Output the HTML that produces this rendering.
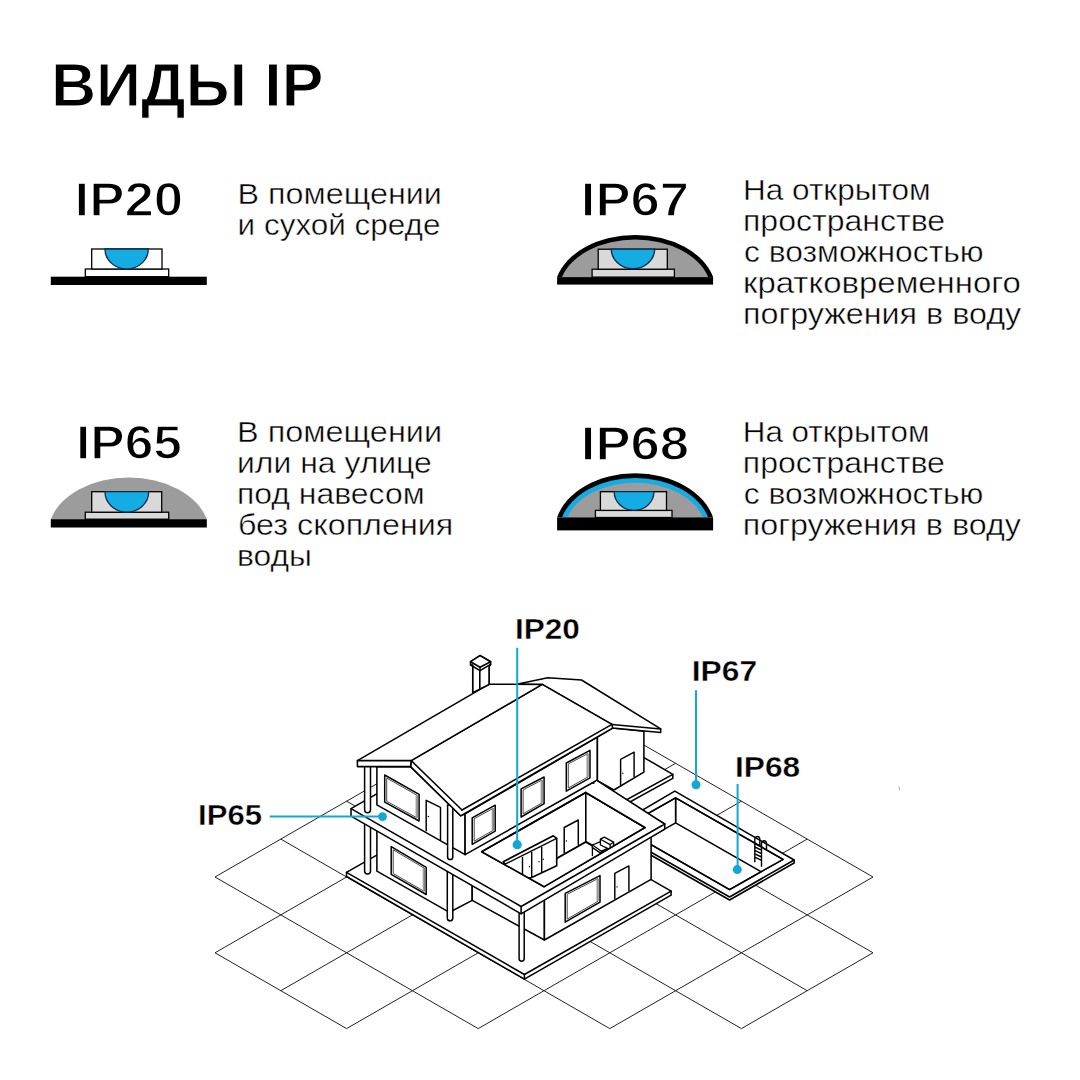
<!DOCTYPE html>
<html><head><meta charset="utf-8"><style>
html,body{margin:0;padding:0;background:#fff;}
svg{display:block;}
text{font-family:"Liberation Sans",sans-serif;}
</style></head><body>
<svg width="1080" height="1080" viewBox="0 0 1080 1080">
<text x="50.9" y="106.15" font-size="60.17" font-weight="700" fill="#000" stroke="#fff" stroke-width="1.1" textLength="272.6" lengthAdjust="spacingAndGlyphs">ВИДЫ IP</text>
<text x="74.5" y="215.95" font-size="48.11" font-weight="700" fill="#000" stroke="#fff" stroke-width="1.5" textLength="108.7" lengthAdjust="spacingAndGlyphs">IP20</text>
<text x="580.8" y="216.35" font-size="48.98" font-weight="700" fill="#000" stroke="#fff" stroke-width="1.5" textLength="108.2" lengthAdjust="spacingAndGlyphs">IP67</text>
<text x="76.0" y="458.55" font-size="48.4" font-weight="700" fill="#000" stroke="#fff" stroke-width="1.5" textLength="106.0" lengthAdjust="spacingAndGlyphs">IP65</text>
<text x="580.8" y="459.65" font-size="48.98" font-weight="700" fill="#000" stroke="#fff" stroke-width="1.5" textLength="108.3" lengthAdjust="spacingAndGlyphs">IP68</text>
<text x="237.6" y="204.32" font-size="29.0" font-weight="400" fill="#000" stroke="#fff" stroke-width="0.45" textLength="204.2" lengthAdjust="spacingAndGlyphs">В помещении</text>
<text x="237.6" y="235.22" font-size="29.0" font-weight="400" fill="#000" stroke="#fff" stroke-width="0.45" textLength="202.9" lengthAdjust="spacingAndGlyphs">и сухой среде</text>
<text x="743.0" y="200.03" font-size="29.0" font-weight="400" fill="#000" stroke="#fff" stroke-width="0.45" textLength="187.7" lengthAdjust="spacingAndGlyphs">На открытом</text>
<text x="743.0" y="230.92" font-size="29.0" font-weight="400" fill="#000" stroke="#fff" stroke-width="0.45" textLength="202.1" lengthAdjust="spacingAndGlyphs">пространстве</text>
<text x="744.0" y="261.83" font-size="29.0" font-weight="400" fill="#000" stroke="#fff" stroke-width="0.45" textLength="239.6" lengthAdjust="spacingAndGlyphs">с возможностью</text>
<text x="743.0" y="292.73" font-size="29.0" font-weight="400" fill="#000" stroke="#fff" stroke-width="0.45" textLength="277.9" lengthAdjust="spacingAndGlyphs">кратковременного</text>
<text x="743.0" y="323.62" font-size="29.0" font-weight="400" fill="#000" stroke="#fff" stroke-width="0.45" textLength="278.1" lengthAdjust="spacingAndGlyphs">погружения в воду</text>
<text x="237.0" y="442.33" font-size="29.0" font-weight="400" fill="#000" stroke="#fff" stroke-width="0.45" textLength="205.0" lengthAdjust="spacingAndGlyphs">В помещении</text>
<text x="237.0" y="473.23" font-size="29.0" font-weight="400" fill="#000" stroke="#fff" stroke-width="0.45" textLength="194.8" lengthAdjust="spacingAndGlyphs">или на улице</text>
<text x="237.0" y="504.12" font-size="29.0" font-weight="400" fill="#000" stroke="#fff" stroke-width="0.45" textLength="187.6" lengthAdjust="spacingAndGlyphs">под навесом</text>
<text x="238.0" y="535.02" font-size="29.0" font-weight="400" fill="#000" stroke="#fff" stroke-width="0.45" textLength="215.2" lengthAdjust="spacingAndGlyphs">без скопления</text>
<text x="237.0" y="565.93" font-size="29.0" font-weight="400" fill="#000" stroke="#fff" stroke-width="0.45" textLength="75.0" lengthAdjust="spacingAndGlyphs">воды</text>
<text x="742.8" y="442.43" font-size="29.0" font-weight="400" fill="#000" stroke="#fff" stroke-width="0.45" textLength="186.7" lengthAdjust="spacingAndGlyphs">На открытом</text>
<text x="742.8" y="473.33" font-size="29.0" font-weight="400" fill="#000" stroke="#fff" stroke-width="0.45" textLength="202.1" lengthAdjust="spacingAndGlyphs">пространстве</text>
<text x="743.8" y="504.23" font-size="29.0" font-weight="400" fill="#000" stroke="#fff" stroke-width="0.45" textLength="239.6" lengthAdjust="spacingAndGlyphs">с возможностью</text>
<text x="742.8" y="535.12" font-size="29.0" font-weight="400" fill="#000" stroke="#fff" stroke-width="0.45" textLength="278.1" lengthAdjust="spacingAndGlyphs">погружения в воду</text>
<rect x="85.3" y="269" width="83.40" height="7.70" fill="#fff" stroke="#000" stroke-width="1.3"/><rect x="91.7" y="249" width="70.30" height="20.00" fill="#fff" stroke="#000" stroke-width="1.3"/><path d="M105,249 A21.65,20.00 0 0 0 148.3,249 Z" fill="#14ace3" stroke="#0a2a4a" stroke-width="1.3"/><rect x="50.8" y="276.7" width="156" height="8.3" fill="#000"/>
<path d="M50.80,519.2 A80.59,55.70 0 0 1 206.80,519.2 Z" fill="#9c9c9c"/><rect x="85.3" y="512.2" width="83.40" height="7.00" fill="#d9d9d9" stroke="#000" stroke-width="1.3"/><rect x="91.7" y="491.7" width="70.00" height="20.50" fill="#d9d9d9" stroke="#000" stroke-width="1.3"/><path d="M105,491.7 A21.85,20.50 0 0 0 148.7,491.7 Z" fill="#14ace3" stroke="#0a2a4a" stroke-width="1.3"/><rect x="50.8" y="519.2" width="156" height="8.3" fill="#000"/>
<path d="M557.10,277.1 A80.55,56.10 0 0 1 713.10,277.1 Z" fill="#000"/><path d="M562.01,277.1 A75.95,51.50 0 0 1 708.19,277.1 Z" fill="#9c9c9c"/><rect x="592.1" y="269.2" width="82.30" height="7.90" fill="#d9d9d9" stroke="#000" stroke-width="1.3"/><rect x="598.2" y="249.2" width="69.10" height="20.00" fill="#d9d9d9" stroke="#000" stroke-width="1.3"/><path d="M611.25,249.2 A21.73,20.00 0 0 0 654.7,249.2 Z" fill="#14ace3" stroke="#0a2a4a" stroke-width="1.3"/><rect x="557.1" y="277.1" width="156" height="7.5" fill="#000"/>
<path d="M557.10,517.5 A80.36,58.20 0 0 1 713.10,517.5 Z" fill="#000"/><path d="M561.97,517.5 A75.76,53.60 0 0 1 708.23,517.5 Z" fill="#14ace3"/><path d="M567.12,517.5 A70.96,48.80 0 0 1 703.08,517.5 Z" fill="#9c9c9c"/><rect x="595.4" y="510.4" width="76.60" height="7.10" fill="#d9d9d9" stroke="#000" stroke-width="1.3"/><rect x="600.4" y="491.7" width="66.10" height="18.70" fill="#d9d9d9" stroke="#000" stroke-width="1.3"/><path d="M614.2,491.7 A19.85,18.70 0 0 0 653.9,491.7 Z" fill="#14ace3" stroke="#0a2a4a" stroke-width="1.3"/><rect x="557.1" y="517.5" width="156" height="12.9" fill="#000"/>
<text x="515.0" y="639.27" font-size="29.14" font-weight="700" fill="#000" stroke="#fff" stroke-width="0.35" textLength="64.9" lengthAdjust="spacingAndGlyphs">IP20</text>
<text x="691.8" y="681.47" font-size="28.85" font-weight="700" fill="#000" stroke="#fff" stroke-width="0.35" textLength="65.3" lengthAdjust="spacingAndGlyphs">IP67</text>
<text x="735.0" y="777.27" font-size="28.85" font-weight="700" fill="#000" stroke="#fff" stroke-width="0.35" textLength="65.2" lengthAdjust="spacingAndGlyphs">IP68</text>
<text x="198.1" y="825.17" font-size="28.71" font-weight="700" fill="#000" stroke="#fff" stroke-width="0.35" textLength="63.9" lengthAdjust="spacingAndGlyphs">IP65</text>
<path d="M215.0,877.0L544.0,687.5M215.0,952.8L609.8,725.4M280.8,990.7L675.6,763.3M346.6,1028.6L741.4,801.2M478.2,1028.6L807.2,839.1M609.8,1028.6L873.0,877.0M741.4,1028.6L873.0,952.8M215.0,952.8L346.6,1028.6M215.0,877.0L478.2,1028.6M280.8,839.1L609.8,1028.6M346.6,801.2L741.4,1028.6M412.4,763.3L807.2,990.7M478.2,725.4L873.0,952.8M544.0,687.5L873.0,877.0" stroke="#222" stroke-width="1.0" fill="none"/>
<polygon points="610.3,829.0 674.8,791.1 794.1,860.0 794.1,863.0 729.6,900.0 610.3,832.0" fill="#fff" stroke="#000" stroke-width="1.55" stroke-linejoin="round"/>
<polyline points="610.3,829.0 729.6,897.0 794.1,860.0" fill="none" stroke="#000" stroke-width="1.55" stroke-linejoin="round" stroke-linecap="round"/>
<polygon points="622.2,828.1 675.6,797.8 783.0,859.3 729.6,889.6" fill="#fff" stroke="#000" stroke-width="1.55" stroke-linejoin="round"/>
<clipPath id="poolclip"><polygon points="622.2,828.1 675.6,797.8 783.0,859.3 729.6,889.6"/></clipPath><g clip-path="url(#poolclip)">
<polygon points="675.6,797.8 783.0,859.3 783.0,884.3 675.6,822.8" fill="#fff" stroke="#000" stroke-width="1.55" stroke-linejoin="round"/>
<polygon points="622.2,828.1 675.6,797.8 675.6,822.8 622.2,853.1" fill="#fff" stroke="#000" stroke-width="1.55" stroke-linejoin="round"/>
</g>
<polyline points="622.2,828.1 675.6,797.8 783.0,859.3 729.6,889.6 622.2,828.1" fill="none" stroke="#000" stroke-width="1.55" stroke-linejoin="round" stroke-linecap="round"/>
<path d="M754.8,862.2V839.3C754.8,835.5 759.8,835.5 759.8,839.5V845M761.5,866.7V843.5C761.5,839.8 766.5,839.8 766.5,843.8V849M754.8,843.6L761.5,846.8M754.8,847.0L761.5,850.2M754.8,850.4L761.5,853.6M754.8,853.8L761.5,857.0M754.8,857.2L761.5,860.4" stroke="#000" stroke-width="1.4" fill="none"/>
<polygon points="570.0,799.0 644.4,757.8 672.8,774.4 672.8,778.4 598.0,819.5 598.0,815.5" fill="#fff" stroke="#000" stroke-width="1.55" stroke-linejoin="round"/>
<polyline points="672.8,774.4 598.0,815.5" fill="none" stroke="#000" stroke-width="1.55" stroke-linejoin="round" stroke-linecap="round"/>
<polygon points="346.5,872.3 493.2,788.9 671.1,891.1 671.1,895.1 524.4,979.1 346.5,876.5" fill="#fff" stroke="#000" stroke-width="1.55" stroke-linejoin="round"/>
<polyline points="346.5,872.3 524.4,974.5 671.1,891.1" fill="none" stroke="#000" stroke-width="1.55" stroke-linejoin="round" stroke-linecap="round"/>
<polyline points="524.4,974.5 524.4,979.1" fill="none" stroke="#000" stroke-width="1.55" stroke-linejoin="round" stroke-linecap="round"/>
<polygon points="376.9,819.2 449.5,860.3 449.5,912.3 376.9,871.2" fill="#fff" stroke="#000" stroke-width="1.55" stroke-linejoin="round"/>
<polygon points="449.5,860.3 472.2,848.4 472.2,900.4 449.5,912.3" fill="#fff" stroke="#000" stroke-width="1.55" stroke-linejoin="round"/>
<polygon points="472.2,845.4 544.4,885.0 544.4,940.0 472.2,900.4" fill="#fff" stroke="#000" stroke-width="1.55" stroke-linejoin="round"/>
<polygon points="544.4,895.0 651.1,834.3 651.1,879.3 544.4,940.0" fill="#fff" stroke="#000" stroke-width="1.55" stroke-linejoin="round"/>
<polygon points="391.2,846.6 426.2,867.3 426.2,894.5 391.2,874.4" fill="#fff" stroke="#000" stroke-width="1.5" stroke-linejoin="round"/>
<polygon points="393.2,849.8 424.2,868.1 424.2,891.4 393.2,873.5" fill="#fff" stroke="#333" stroke-width="0.9" stroke-linejoin="round"/>
<polyline points="423.3,868.6 423.3,890.9" fill="none" stroke="#999" stroke-width="1.2" stroke-linejoin="round" stroke-linecap="round"/>
<polygon points="565.2,893.3 600.0,875.6 600.0,902.2 565.2,922.2" fill="#fff" stroke="#000" stroke-width="1.5" stroke-linejoin="round"/>
<polygon points="567.2,894.3 598.0,878.6 598.0,901.3 567.2,919.1" fill="#fff" stroke="#333" stroke-width="0.9" stroke-linejoin="round"/>
<polyline points="597.1,879.1 597.1,900.8" fill="none" stroke="#999" stroke-width="1.2" stroke-linejoin="round" stroke-linecap="round"/>
<polyline points="614.8,898.5 614.8,873.3 628.9,865.9 628.9,890.4" fill="none" stroke="#000" stroke-width="1.45" stroke-linejoin="round" stroke-linecap="round"/>
<circle cx="617.0" cy="886.9" r="0.7" fill="#000"/>
<path d="M364.6,822.0V871.0A2.9,2.9 0 0 0 370.5,871.0V822.0Z" fill="#fff" stroke="#000" stroke-width="1.5"/>
<path d="M447.3,870.0V918.5A2.8,2.8 0 0 0 452.8,918.5V870.0Z" fill="#fff" stroke="#000" stroke-width="1.5"/>
<path d="M519.1,912.0V959.2A2.6,2.6 0 0 0 524.2,959.2V912.0Z" fill="#fff" stroke="#000" stroke-width="1.5"/>
<polygon points="351.0,808.7 494.6,726.2 664.7,824.0 664.7,829.1 521.1,913.8 351.0,816.2" fill="#fff" stroke="#000" stroke-width="1.55" stroke-linejoin="round"/>
<polyline points="351.0,808.7 521.1,906.5 664.7,824.0" fill="none" stroke="#000" stroke-width="1.55" stroke-linejoin="round" stroke-linecap="round"/>
<polyline points="521.1,906.5 521.1,913.6" fill="none" stroke="#000" stroke-width="1.55" stroke-linejoin="round" stroke-linecap="round"/>
<polygon points="481.7,851.7 585.8,792.5 645.0,827.5 544.2,886.7" fill="#fff" stroke="#000" stroke-width="1.55" stroke-linejoin="round"/>
<clipPath id="roomclip"><polygon points="481.7,851.7 585.8,792.5 645.0,827.5 544.2,886.7"/></clipPath><g clip-path="url(#roomclip)">
<polygon points="481.7,851.7 585.8,792.5 585.8,842.0 481.7,901.2" fill="#fff" stroke="#000" stroke-width="1.6" stroke-linejoin="round"/>
<polygon points="585.8,792.5 645.0,827.5 645.0,877.0 585.8,842.0" fill="#fff" stroke="#000" stroke-width="1.6" stroke-linejoin="round"/>
<polygon points="481.7,901.2 585.8,842.0 645.0,877.0 544.2,936.2" fill="#fff" stroke="#000" stroke-width="1.6" stroke-linejoin="round"/>
<polyline points="564.2,852.5 564.2,827.5 578.3,820.0 578.3,844.2" fill="none" stroke="#000" stroke-width="1.5" stroke-linejoin="round" stroke-linecap="round"/>
<circle cx="566.4" cy="841.0" r="0.7" fill="#000"/>
<polyline points="585.8,841.7 592.4,845.2" fill="none" stroke="#000" stroke-width="1.5" stroke-linejoin="round" stroke-linecap="round"/>
<polygon points="592.4,845.0 600.4,841.6 609.5,847.4 601.5,851.2 601.5,853.6 592.4,847.6" fill="#fff" stroke="#000" stroke-width="1.3" stroke-linejoin="round"/>
<polyline points="592.4,845.0 601.5,851.2" fill="none" stroke="#000" stroke-width="1.2" stroke-linejoin="round" stroke-linecap="round"/>
<polyline points="592.4,847.6 592.4,855.6" fill="none" stroke="#000" stroke-width="1.3" stroke-linejoin="round" stroke-linecap="round"/>
<polygon points="600.4,839.2 604.3,837.2 613.6,842.2 613.6,847.2 610.2,849.6 600.4,845.0" fill="#fff" stroke="#000" stroke-width="1.35" stroke-linejoin="round"/>
<polyline points="600.4,839.2 610.2,844.6 613.6,842.2" fill="none" stroke="#000" stroke-width="1.2" stroke-linejoin="round" stroke-linecap="round"/>
<polyline points="610.2,844.6 610.2,849.6" fill="none" stroke="#000" stroke-width="1.2" stroke-linejoin="round" stroke-linecap="round"/>
<polygon points="505.0,882.2 505.0,864.2 503.3,861.7 553.3,835.8 556.7,838.3 556.7,865.8 531.7,877.5" fill="#fff" stroke="#000" stroke-width="1.6" stroke-linejoin="round"/>
<polyline points="505.0,864.2 556.7,838.3" fill="none" stroke="#000" stroke-width="1.4" stroke-linejoin="round" stroke-linecap="round"/>
<polyline points="522.5,857.5 522.5,873.5" fill="none" stroke="#000" stroke-width="1.4" stroke-linejoin="round" stroke-linecap="round"/>
<polyline points="531.7,852.5 531.7,877.5" fill="none" stroke="#000" stroke-width="1.4" stroke-linejoin="round" stroke-linecap="round"/>
<polyline points="541.7,847.5 541.7,872.5" fill="none" stroke="#000" stroke-width="1.4" stroke-linejoin="round" stroke-linecap="round"/>
<circle cx="529.5" cy="866.7" r="0.7" fill="#000"/>
<circle cx="539" cy="861.7" r="0.7" fill="#000"/>
<circle cx="543.3" cy="859.2" r="0.7" fill="#000"/>
</g>
<polyline points="481.7,851.7 585.8,792.5 645.0,827.5 544.2,886.7 481.7,851.7" fill="none" stroke="#000" stroke-width="1.55" stroke-linejoin="round" stroke-linecap="round"/>
<polygon points="376.9,804.8 376.9,766.6 410.6,766.6 460.6,815.8 465.1,813.9 465.1,854.7" fill="#fff" stroke="#000" stroke-width="1.55" stroke-linejoin="round"/>
<polygon points="465.1,854.7 465.1,813.9 597.4,737.2 597.4,780.0" fill="#fff" stroke="#000" stroke-width="1.55" stroke-linejoin="round"/>
<polygon points="384.7,775.0 419.1,794.4 419.1,821.0 384.7,802.2" fill="#fff" stroke="#000" stroke-width="1.5" stroke-linejoin="round"/>
<polygon points="386.7,778.1 417.1,795.3 417.1,817.9 386.7,801.3" fill="#fff" stroke="#333" stroke-width="0.9" stroke-linejoin="round"/>
<polyline points="416.2,795.8 416.2,817.4" fill="none" stroke="#999" stroke-width="1.2" stroke-linejoin="round" stroke-linecap="round"/>
<polyline points="426.2,830.7 426.2,800.3 440.5,807.4 440.5,839.8" fill="none" stroke="#000" stroke-width="1.45" stroke-linejoin="round" stroke-linecap="round"/>
<circle cx="428.4" cy="816.5" r="0.7" fill="#000"/>
<polygon points="472.2,817.8 495.2,805.2 495.2,831.1 472.2,844.4" fill="#fff" stroke="#000" stroke-width="1.5" stroke-linejoin="round"/>
<polygon points="474.2,818.7 493.2,808.3 493.2,830.3 474.2,841.2" fill="#fff" stroke="#333" stroke-width="0.9" stroke-linejoin="round"/>
<polyline points="492.3,808.8 492.3,829.8" fill="none" stroke="#999" stroke-width="1.2" stroke-linejoin="round" stroke-linecap="round"/>
<polygon points="521.1,788.9 544.1,777.0 544.1,803.7 521.1,817.0" fill="#fff" stroke="#000" stroke-width="1.5" stroke-linejoin="round"/>
<polygon points="523.1,789.9 542.1,780.0 542.1,802.9 523.1,813.8" fill="#fff" stroke="#333" stroke-width="0.9" stroke-linejoin="round"/>
<polyline points="541.2,780.5 541.2,802.4" fill="none" stroke="#999" stroke-width="1.2" stroke-linejoin="round" stroke-linecap="round"/>
<polygon points="566.3,763.0 590.0,750.4 590.0,777.8 566.3,791.1" fill="#fff" stroke="#000" stroke-width="1.5" stroke-linejoin="round"/>
<polygon points="568.3,763.9 588.0,753.5 588.0,776.9 568.3,788.0" fill="#fff" stroke="#333" stroke-width="0.9" stroke-linejoin="round"/>
<polyline points="587.1,754.0 587.1,776.4" fill="none" stroke="#999" stroke-width="1.2" stroke-linejoin="round" stroke-linecap="round"/>
<path d="M364.6,766.0V809.8A2.9,2.9 0 0 0 370.5,809.8V766.0Z" fill="#fff" stroke="#000" stroke-width="1.5"/>
<path d="M447.6,805.0V856.9A2.6,2.6 0 0 0 452.8,856.9V805.0Z" fill="#fff" stroke="#000" stroke-width="1.5"/>
<polygon points="597.4,737.2 612.6,728.1 643.9,731.2 643.9,772.2 613.9,790.0 597.4,780.6" fill="#fff" stroke="#000" stroke-width="1.55" stroke-linejoin="round"/>
<polyline points="620.6,785.0 620.6,759.4 634.1,752.2 634.1,776.7" fill="none" stroke="#000" stroke-width="1.45" stroke-linejoin="round" stroke-linecap="round"/>
<circle cx="622.8" cy="773.2" r="0.7" fill="#000"/>
<polygon points="597.2,780.6 664.7,824.0 645.0,827.5 585.8,792.5" fill="#fff" stroke="none" stroke-width="0" stroke-linejoin="round"/>
<polyline points="597.2,780.6 664.7,824.0" fill="none" stroke="#000" stroke-width="1.55" stroke-linejoin="round" stroke-linecap="round"/>
<polyline points="585.8,792.5 645.0,827.5" fill="none" stroke="#000" stroke-width="1.55" stroke-linejoin="round" stroke-linecap="round"/>
<polygon points="517.8,683.9 547.8,677.8 581.5,680.0 660.7,728.9 660.7,732.6 612.6,728.1 611.9,724.4 542.2,684.4" fill="#fff" stroke="#000" stroke-width="1.55" stroke-linejoin="round"/>
<polyline points="611.9,724.4 660.7,728.9" fill="none" stroke="#000" stroke-width="1.55" stroke-linejoin="round" stroke-linecap="round"/>
<polygon points="411.2,760.6 542.2,684.4 611.9,724.4 612.6,728.1 460.6,815.8 410.6,766.6" fill="#fff" stroke="#000" stroke-width="1.55" stroke-linejoin="round"/>
<polyline points="462.0,810.0 611.9,724.4" fill="none" stroke="#000" stroke-width="1.55" stroke-linejoin="round" stroke-linecap="round"/>
<polyline points="411.2,760.6 462.0,810.0" fill="none" stroke="#000" stroke-width="1.55" stroke-linejoin="round" stroke-linecap="round"/>
<polygon points="357.4,760.6 489.1,684.2 542.2,684.4 411.2,760.6 410.6,766.6 357.4,766.6" fill="#fff" stroke="#000" stroke-width="1.55" stroke-linejoin="round"/>
<polyline points="357.4,760.6 411.2,760.6" fill="none" stroke="#000" stroke-width="1.55" stroke-linejoin="round" stroke-linecap="round"/>
<polygon points="472.8,692.8 472.8,665.0 470.6,665.0 470.6,661.7 480.0,655.6 490.6,661.7 490.6,664.4 489.1,666.7 489.1,684.4" fill="#fff" stroke="#000" stroke-width="1.7" stroke-linejoin="round"/>
<polygon points="470.6,661.7 480.0,655.6 490.6,661.7 480.0,667.2" fill="#fff" stroke="#000" stroke-width="1.6" stroke-linejoin="round"/>
<polyline points="470.6,665.0 480.0,670.6 490.6,664.4" fill="none" stroke="#000" stroke-width="1.6" stroke-linejoin="round" stroke-linecap="round"/>
<polyline points="480.0,667.2 480.0,670.6" fill="none" stroke="#000" stroke-width="1.4" stroke-linejoin="round" stroke-linecap="round"/>
<polyline points="479.8,670.6 479.8,688.9" fill="none" stroke="#000" stroke-width="1.6" stroke-linejoin="round" stroke-linecap="round"/>
<path d="M899,786.5L899.6,790.5" stroke="#999" stroke-width="0.8"/>
<g stroke="#12a7d5" stroke-width="2" fill="none"><path d="M517.2,647.8V844.7M696,690.3V784.7M737.6,784V869.6M269.7,816.6H382.5"/></g>
<g fill="#12a7d5"><circle cx="517.2" cy="844.7" r="4.6"/><circle cx="696" cy="784.7" r="4.5"/><circle cx="737.3" cy="869.6" r="4.5"/><circle cx="382.5" cy="816.6" r="4.4"/></g>
</svg>
</body></html>
